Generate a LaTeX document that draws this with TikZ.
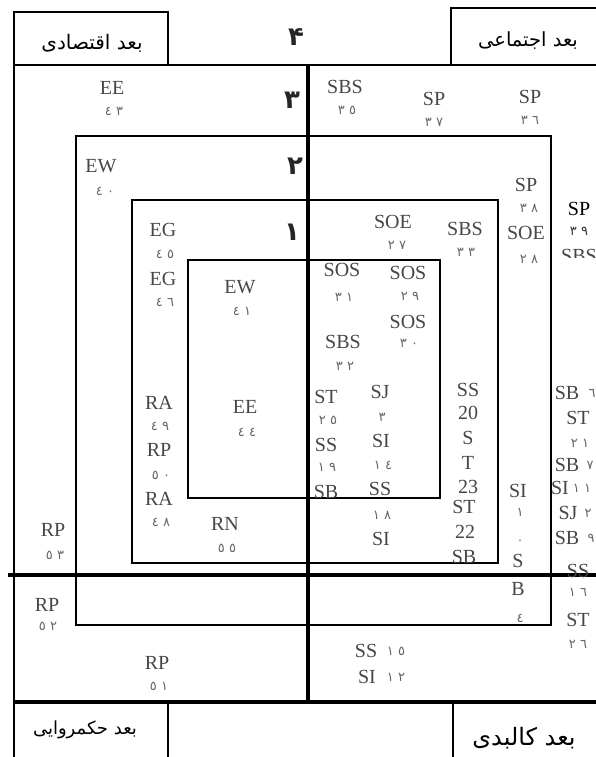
\documentclass[tikz,border=0pt]{standalone}
\usepackage{fontspec}
\setmainfont{Liberation Serif}
\newfontfamily\arabicfont[Script=Arabic]{DejaVu Sans}
\newfontfamily\digitfont[Script=Arabic, LetterSpace=32]{DejaVu Sans}
\TeXXeTstate=1
\tikzset{
	lab/.style={inner sep=0pt, text=black!72, font=\fontsize{20}{20}\selectfont},
	num/.style={inner sep=0pt, text=black!60, font=\digitfont\fontsize{13}{13}\selectfont},
	rank/.style={inner sep=0pt, text=black!85, font=\arabicfont\bfseries\fontsize{26}{26}\selectfont},
	dimname/.style={inner sep=0pt, font=\arabicfont\fontsize{20}{20}\selectfont},
	frame/.style={line width=2.5pt},
	cross/.style={line width=4pt},
}
\begin{document}
\begin{tikzpicture}[x=1pt,y=-1pt]
	\clip (0,0) rectangle (596,757);
	\fill[white] (0,0) rectangle (596,757);

	\draw[frame] (14,760) -- (14,12) -- (168,12) -- (168,65);
	\draw[frame] (14,65) -- (600,65);
	\draw[frame] (451,65) -- (451,8) -- (600,8);
	\draw[frame] (76,136) rectangle (551,625);
	\draw[frame] (132,200) rectangle (498,563);
	\draw[frame] (188,260) rectangle (440,498);
	\draw[cross] (308,65) -- (308,702);
	\draw[cross] (8,575) -- (600,575);
	\draw[cross] (14,702) -- (600,702);
	\draw[frame] (168,702) -- (168,760);
	\draw[frame] (453,702) -- (453,760);

	\node[dimname] (eqt) at (92,43) {\beginR بعد اقتصادی\endR};
	\node[dimname, font=\arabicfont\fontsize{19.5}{19.5}\selectfont] (ejt) at (528,41) {\beginR بعد اجتماعی\endR};
	\node[dimname, font=\arabicfont\fontsize{18}{18}\selectfont] (hkm) at (85,730) {\beginR بعد حکمروایی\endR};
	\node[dimname, font=\arabicfont\fontsize{24}{24}\selectfont] (klb) at (524,738) {\beginR بعد کالبدی\endR};

	\node[rank] (r4) at (296,37) {۴};
	\node[rank] (r3) at (292,100) {۳};
	\node[rank] (r2) at (295,166) {۲};
	\node[rank] (r1) at (292,232) {۱};

	\node[lab] (ee43) at (112,88) {EE};
	\node[num] at (114,111) {٤٣};
	\node[lab] (sbs35) at (345,87) {SBS};
	\node[num] at (347,110) {٣٥};
	\node[lab] (sp37) at (434,99) {SP};
	\node[num] at (434,122) {٣٧};
	\node[lab] (sp36) at (530,97) {SP};
	\node[num] at (530,120) {٣٦};

	\node[lab] (ew40) at (101,166) {EW};
	\node[num] at (105,191) {٤٠};
	\node[lab] (sp38) at (526,185) {SP};
	\node[num] at (529,208) {٣٨};
	\node[lab] (soe28) at (526,233) {SOE};
	\node[num] at (529,259) {٢٨};
	\node[lab, text=black] (sp39) at (579,209) {SP};
	\node[num, text=black!80] at (579,231) {٣٩};
	\begin{scope}
		\clip (540,240) rectangle (600,257);
		\node[lab] (sbs34) at (579,256) {SBS};
	\end{scope}

	\node[lab] (eg45) at (163,230) {EG};
	\node[num] at (165,254) {٤٥};
	\node[lab] (eg46) at (163,279) {EG};
	\node[num] at (165,302) {٤٦};
	\node[lab] (soe27) at (393,222) {SOE};
	\node[num] at (397,245) {٢٧};
	\node[lab] (sbs33) at (465,229) {SBS};
	\node[num] at (466,252) {٣٣};

	\node[lab] (ra49) at (159,403) {RA};
	\node[num] at (160,426) {٤٩};
	\node[lab] (rp50) at (159,450) {RP};
	\node[num] at (161,475) {٥٠};
	\node[lab] (ra48) at (159,499) {RA};
	\node[num] at (161,522) {٤٨};
	\node[lab] (rn55) at (225,524) {RN};
	\node[num] at (227,548) {٥٥};
	\node[lab] (rp53) at (53,530) {RP};
	\node[num] at (55,555) {٥٣};

	\node[lab] (ew41) at (240,287) {EW};
	\node[num] at (242,311) {٤١};
	\node[lab] (ee44) at (245,407) {EE};
	\node[num] at (247,432) {٤٤};
	\node[lab] (sos31) at (342,270) {SOS};
	\node[num] at (344,297) {٣١};
	\node[lab] (sos29) at (408,273) {SOS};
	\node[num] at (410,296) {٢٩};
	\node[lab] (sos30) at (408,322) {SOS};
	\node[num] at (409,343) {٣٠};
	\node[lab] (sbs32) at (343,342) {SBS};
	\node[num] at (345,366) {٣٢};

	\node[lab] (st25) at (326,397) {ST};
	\node[num] at (328,420) {٢٥};
	\node[lab] (ss19) at (326,445) {SS};
	\node[num] at (327,467) {١٩};
	\begin{scope}
		\clip (310,470) rectangle (360,497);
		\node[lab] (sb5) at (326,492) {SB};
	\end{scope}
	\node[lab] (sj3) at (380,392) {SJ};
	\node[num] at (382,417) {٣};
	\node[lab] (si14) at (381,441) {SI};
	\node[num] at (383,465) {١٤};
	\node[lab] (ss18) at (380,489) {SS};
	\node[num] at (382,515) {١٨};
	\node[lab] (si13) at (381,539) {SI};
	\begin{scope}
		\clip (360,550) rectangle (400,562);
		\node[num] at (383,568) {١٣};
	\end{scope}

	\node[lab] (ss20) at (468,390) {SS};
	\node[lab] at (468,413) {20};
	\node[lab] (st23) at (468,438) {S};
	\node[lab] at (468,463) {T};
	\node[lab] at (468,487) {23};
	\node[lab] (st22) at (464,507) {ST};
	\node[lab] at (465,532) {22};
	\begin{scope}
		\clip (440,545) rectangle (490,562);
		\node[lab] (sb8) at (464,557) {SB};
	\end{scope}

	\node[lab] (si10) at (518,491) {SI};
	\node[num] at (520,512) {١};
	\node[num] at (520,542) {٠};
	\node[lab] (sb4) at (518,561) {S};
	\node[lab] at (518,589) {B};
	\node[num] at (520,618) {٤};

	\node[lab] (sb6) at (567,393) {SB};
	\node[num] at (592,393) {٦};
	\node[lab] (st21) at (578,418) {ST};
	\node[num] at (580,443) {٢١};
	\node[lab] (sb7) at (567,465) {SB};
	\node[num] at (590,465) {٧};
	\node[lab] (si11) at (560,488) {SI};
	\node[num] at (582,488) {١١};
	\node[lab] (sj2) at (568,513) {SJ};
	\node[num] at (588,513) {٢};
	\node[lab] (sb9) at (567,538) {SB};
	\node[num] at (591,538) {٩};
	\node[lab] (ss16) at (578,571) {SS};
	\node[num] at (578,592) {١٦};
	\node[lab] (st26) at (578,620) {ST};
	\node[num] at (578,644) {٢٦};

	\node[lab] (rp52) at (47,605) {RP};
	\node[num] at (48,626) {٥٢};
	\node[lab] (rp51) at (157,663) {RP};
	\node[num] at (159,686) {٥١};
	\node[lab] (ss15) at (366,651) {SS};
	\node[num] at (396,651) {١٥};
	\node[lab] (si12) at (367,677) {SI};
	\node[num] at (396,677) {١٢};
\end{tikzpicture}
\end{document}
